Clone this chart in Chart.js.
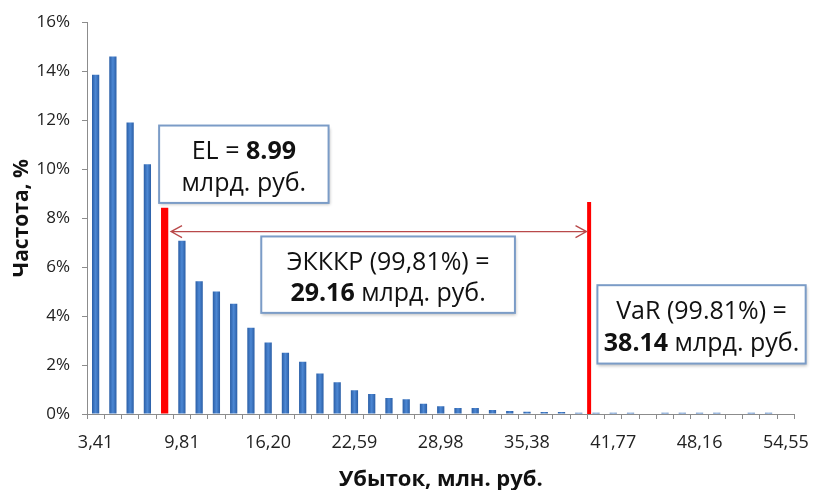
<!DOCTYPE html>
<html>
<head>
<meta charset="utf-8">
<script src="https://cdn.jsdelivr.net/npm/chart.js@4"></script>
<style>
  html, body { margin: 0; padding: 0; background: #fff; }
  #wrap { width: 822px; height: 490px; }
</style>
</head>
<body>
<div id="wrap"><canvas id="lossChart" width="822" height="490"></canvas></div>
<script>
// loss buckets, mln rub (only every 5th is shown on the axis)
const categories = ['3,41', '4,69', '5,97', '7,25', '8,52', '9,81', '11,08', '12,36', '13,64', '14,92',
    '16,20', '17,47', '18,75', '20,03', '21,31', '22,59', '23,87', '25,14', '26,42', '27,70',
    '28,98', '30,26', '31,54', '32,81', '34,09', '35,38', '36,65', '37,93', '39,21', '40,49',
    '41,77', '43,05', '44,32', '45,60', '46,88', '48,16', '49,44', '50,72', '51,99', '53,27', '54,55'];

// frequency, %
const frequency = [13.85, 14.6, 11.9, 10.2, 8.42, 7.08, 5.42, 5.0, 4.5, 3.52,
    2.92, 2.5, 2.13, 1.65, 1.3, 0.97, 0.82, 0.65, 0.6, 0.42,
    0.32, 0.25, 0.24, 0.16, 0.12, 0.09, 0.08, 0.08, 0.05, 0.05,
    0.05, 0.05, 0, 0.05, 0.05, 0.05, 0.05, 0, 0.05, 0.05, 0];

const yTicks = [0, 2, 4, 6, 8, 10, 12, 14, 16];

const elIndex = 4;          // bucket with the expected loss (red bar)
const varIndex = 28.6;      // VaR marker sits between buckets
const varHeight = 8.66;     // %
const arrowLevel = 7.45;    // %
const arrowFrom = 4.37;
const arrowTo = 28.45;

// text boxes: [x1, x2] in bucket index, [top, bottom] in %
const notes = [
    { x: [3.68, 13.5], y: [11.78, 8.62], lines: [[['EL = ', false], ['8.99', true]], [['млрд. руб.', false]]] },
    { x: [9.6, 24.3], y: [7.25, 4.13], lines: [[['ЭКККР (99,81%) =', false]], [['29.16', true], [' млрд. руб.', false]]] },
    { x: [29.08, 41.15], y: [5.26, 2.06], lines: [[['VaR (99.81%) =', false]], [['38.14', true], [' млрд. руб.', false]]] }
];

const FONT = "'Open Sans', 'Noto Sans', sans-serif";

const barShade = {
    id: 'barShade',
    beforeDatasetsDraw(chart) {
        const ctx = chart.ctx;
        chart.getDatasetMeta(0).data.forEach((bar, i) => {
            if (i === elIndex) return;
            const half = bar.width / 2;
            const g = ctx.createLinearGradient(bar.x - half, 0, bar.x + half, 0);
            g.addColorStop(0, '#2a5ea6');
            g.addColorStop(0.5, '#4d88d4');
            g.addColorStop(1, '#2a5ea6');
            bar.options.backgroundColor = g;
        });
    }
};

const drawLine = (ctx, parts, cx, cy, size) => {
    let total = 0;
    parts.forEach(([t, b]) => {
        ctx.font = (b ? 'bold ' : '') + size + 'px ' + FONT;
        total += ctx.measureText(t).width;
    });
    let x = cx - total / 2;
    parts.forEach(([t, b]) => {
        ctx.font = (b ? 'bold ' : '') + size + 'px ' + FONT;
        ctx.fillText(t, x, cy);
        x += ctx.measureText(t).width;
    });
};

const notesPlugin = {
    id: 'notes',
    afterDatasetsDraw(chart) {
        const { ctx, scales: { x, y } } = chart;
        ctx.save();

        // VaR line
        const vx = x.getPixelForValue(varIndex);
        ctx.strokeStyle = '#ff0000';
        ctx.lineWidth = 4;
        ctx.beginPath();
        ctx.moveTo(vx, y.getPixelForValue(0));
        ctx.lineTo(vx, y.getPixelForValue(varHeight));
        ctx.stroke();

        // double arrow EL -> VaR
        const ay = y.getPixelForValue(arrowLevel);
        const ax1 = x.getPixelForValue(arrowFrom);
        const ax2 = x.getPixelForValue(arrowTo);
        ctx.strokeStyle = '#b9494a';
        ctx.lineWidth = 1.3;
        ctx.beginPath();
        ctx.moveTo(ax1, ay);
        ctx.lineTo(ax2, ay);
        ctx.moveTo(ax1 + 11, ay - 6);
        ctx.lineTo(ax1, ay);
        ctx.lineTo(ax1 + 11, ay + 6);
        ctx.moveTo(ax2 - 11, ay - 6);
        ctx.lineTo(ax2, ay);
        ctx.lineTo(ax2 - 11, ay + 6);
        ctx.stroke();

        // boxes
        notes.forEach(n => {
            const l = x.getPixelForValue(n.x[0]);
            const r = x.getPixelForValue(n.x[1]);
            const t = y.getPixelForValue(n.y[0]);
            const b = y.getPixelForValue(n.y[1]);
            ctx.save();
            ctx.shadowColor = 'rgba(0,0,0,0.25)';
            ctx.shadowBlur = 3;
            ctx.shadowOffsetX = 1;
            ctx.shadowOffsetY = 2;
            ctx.fillStyle = '#fff';
            ctx.fillRect(l, t, r - l, b - t);
            ctx.restore();
            ctx.strokeStyle = '#7b9cc7';
            ctx.lineWidth = 2;
            ctx.strokeRect(l, t, r - l, b - t);

            ctx.fillStyle = '#111';
            ctx.textAlign = 'left';
            ctx.textBaseline = 'middle';
            const rows = [0.34, 0.75];
            n.lines.forEach((line, i) => {
                drawLine(ctx, line, (l + r) / 2, t + (b - t) * rows[i], 25);
            });
        });
        ctx.restore();
    }
};

new Chart(document.getElementById('lossChart'), {
    type: 'bar',
    data: {
        labels: categories,
        datasets: [{
            data: frequency,
            backgroundColor: frequency.map((v, i) => i === elIndex ? '#ff0000' : '#3a73c0'),
            barPercentage: 0.42,
            categoryPercentage: 1
        }]
    },
    options: {
        responsive: false,
        animation: false,
        layout: { padding: { top: 19, right: 22, left: 0, bottom: 0 } },
        plugins: { legend: { display: false }, tooltip: { enabled: false } },
        scales: {
            x: {
                afterFit: s => { s.height = 76; },
                border: { color: '#8c8c8c', width: 1 },
                grid: { display: true, drawOnChartArea: false, offset: true, tickLength: 5, color: '#8c8c8c' },
                ticks: {
                    autoSkip: false,
                    maxRotation: 0,
                    padding: 13,
                    color: '#222',
                    font: { family: FONT, size: 18 },
                    callback: (v, i) => i % 5 === 0 ? categories[i] : ''
                },
                title: {
                    display: true,
                    text: 'Убыток, млн. руб.',
                    color: '#111',
                    font: { family: FONT, size: 22, weight: 'bold' },
                    padding: { top: 0, bottom: -3 }
                }
            },
            y: {
                min: 0,
                max: 16,
                afterFit: s => { s.width = 87; },
                afterBuildTicks: s => { s.ticks = yTicks.map(v => ({ value: v })); },
                border: { color: '#8c8c8c', width: 1 },
                grid: { display: true, drawOnChartArea: false, tickLength: 5, color: '#8c8c8c' },
                ticks: {
                    padding: 12,
                    color: '#222',
                    font: { family: FONT, size: 17 },
                    callback: v => v + '%'
                },
                title: {
                    display: true,
                    text: 'Частота, %',
                    color: '#111',
                    font: { family: FONT, size: 21, weight: 'bold' },
                    padding: { top: 9, bottom: 0 }
                }
            }
        }
    },
    plugins: [barShade, notesPlugin]
});
</script>
</body>
</html>
